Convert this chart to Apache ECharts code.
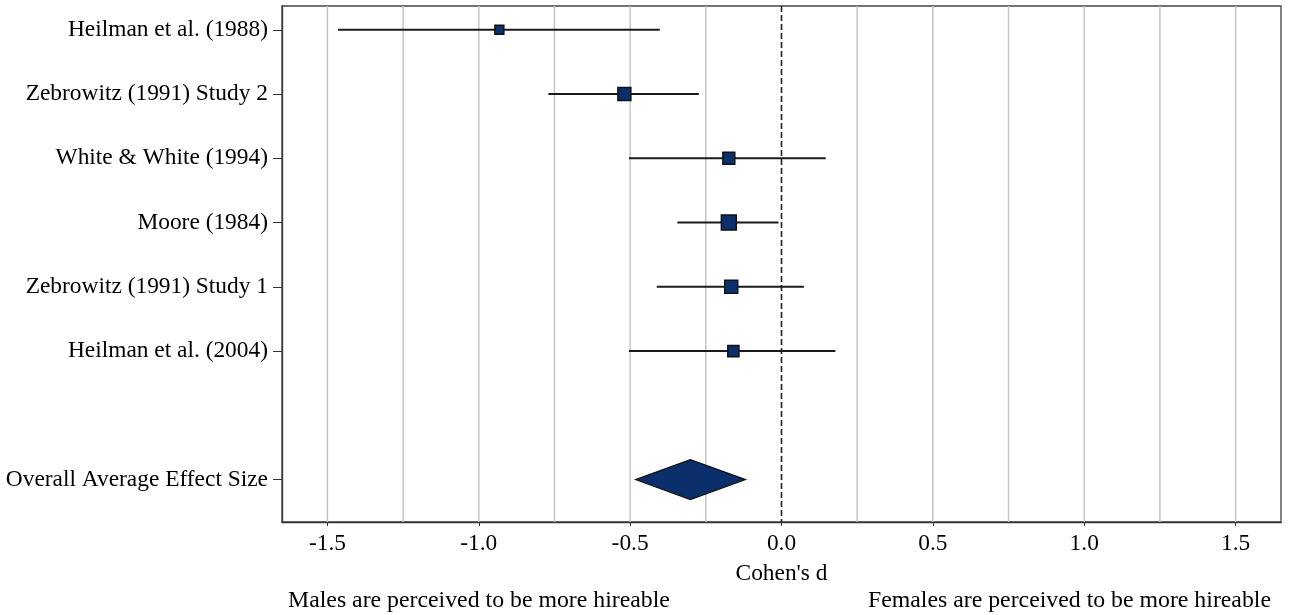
<!DOCTYPE html>
<html>
<head>
<meta charset="utf-8">
<script src="https://cdn.jsdelivr.net/npm/echarts@6/dist/echarts.min.js"></script>
<style>html,body{margin:0;padding:0;background:#fff}#c{width:1290px;height:615px}</style>
</head>
<body>
<div id="c"></div>
<script>
// ---- data ----
const studies = ["Heilman et al. (1988)", "Zebrowitz (1991) Study 2", "White & White (1994)", "Moore (1984)", "Zebrowitz (1991) Study 1", "Heilman et al. (2004)"];
const studyRows = [1, 2, 3, 4, 5, 6];
const effect = [-0.932, -0.519, -0.174, -0.174, -0.166, -0.159];
const ciLow = [-1.465, -0.770, -0.504, -0.344, -0.412, -0.504];
const ciHigh = [-0.402, -0.273, 0.146, -0.010, 0.074, 0.178];
const weights = [0.6, 0.87, 0.8, 1.0, 0.87, 0.75];
const overallLabel = "Overall Average Effect Size";
const overallRow = 8;
const overall = { est: -0.301, low: -0.482, high: -0.119 };
const xTicks = [-1.5, -1.0, -0.5, 0.0, 0.5, 1.0, 1.5];
const gridValues = [-1.5, -1.25, -1.0, -0.75, -0.5, -0.25, 0.25, 0.5, 0.75, 1.0, 1.25, 1.5];
const zeroLine = [0];
const xTitle = "Cohen's d";
const leftNote = "Males are perceived to be more hireable";
const rightNote = "Females are perceived to be more hireable";

// ---- chart ----
const FONT = "'Liberation Serif', 'Times New Roman', serif";
const FS = 23.4;
const rowLabels = {};
studies.forEach((s, i) => { rowLabels[studyRows[i]] = s; });
rowLabels[overallRow] = overallLabel;
const yLabelVals = studyRows.concat([overallRow]);
const Y_MIN = 0.63, Y_MAX = 8.66;

const chart = echarts.init(document.getElementById('c'), null, { renderer: 'canvas' });

function vLine(color, dash, width) {
  return function (params, api) {
    const v = api.value(0);
    const p1 = api.coord([v, Y_MIN]);
    const p2 = api.coord([v, Y_MAX]);
    return { type: 'line', shape: { x1: p1[0], y1: p1[1], x2: p2[0], y2: p2[1] },
      style: { stroke: color, lineWidth: width, lineDash: dash } };
  };
}

chart.setOption({
  animation: false,
  backgroundColor: '#ffffff',
  grid: { left: 282, right: 9, top: 6, bottom: 93, show: true, borderColor: '#444', borderWidth: 1.3, backgroundColor: 'transparent' },
  xAxis: {
    type: 'value', min: -1.65, max: 1.65,
    axisLine: { show: true, onZero: false, lineStyle: { color: '#333', width: 1.3 } },
    axisTick: { show: true, customValues: xTicks, length: 4, lineStyle: { color: '#333' } },
    axisLabel: { customValues: xTicks, margin: 10, color: '#000', fontFamily: FONT, fontSize: FS,
      formatter: v => v.toFixed(1) },
    splitLine: { show: false },
    name: xTitle, nameLocation: 'middle', nameGap: 40,
    nameTextStyle: { color: '#000', fontFamily: FONT, fontSize: FS }
  },
  yAxis: {
    type: 'value', inverse: true, min: Y_MIN, max: Y_MAX,
    axisLine: { show: true, onZero: false, lineStyle: { color: '#333', width: 1.3 } },
    axisTick: { show: true, customValues: yLabelVals, length: 9, lineStyle: { color: '#333' } },
    axisLabel: { customValues: yLabelVals, margin: 14, color: '#000', fontFamily: FONT, fontSize: FS,
      padding: [2, 0, 0, 0],
      formatter: v => rowLabels[Math.round(v)] || '' },
    splitLine: { show: false }
  },
  series: [
    { type: 'custom', z: 1, silent: true, data: gridValues.map(v => [v]), renderItem: vLine('#c4c4c4', null, 1.5) },
    { type: 'custom', z: 2, silent: true, data: zeroLine.map(v => [v]), renderItem: vLine('#222', [6, 3], 1.6) },
    {
      type: 'custom', z: 3, silent: true,
      data: studies.map((s, i) => [ciLow[i], ciHigh[i], studyRows[i]]),
      renderItem: function (params, api) {
        const a = api.coord([api.value(0), api.value(2)]);
        const b = api.coord([api.value(1), api.value(2)]);
        return { type: 'line', shape: { x1: a[0], y1: a[1], x2: b[0], y2: b[1] },
          style: { stroke: '#1a1a1a', lineWidth: 2 } };
      }
    },
    {
      type: 'scatter', z: 4, silent: true, symbol: 'rect',
      data: studies.map((s, i) => ({ value: [effect[i], studyRows[i]], symbolSize: 15 * weights[i] })),
      itemStyle: { color: '#0b2f6b', borderColor: '#111', borderWidth: 1.4, opacity: 1 }
    },
    {
      type: 'custom', z: 4, silent: true,
      data: [[overall.low, overall.est, overall.high, overallRow]],
      renderItem: function (params, api) {
        const y = api.value(3);
        const l = api.coord([api.value(0), y]);
        const c = api.coord([api.value(1), y]);
        const r = api.coord([api.value(2), y]);
        const h = 20;
        return { type: 'polygon', shape: { points: [[l[0], l[1]], [c[0], c[1] - h], [r[0], r[1]], [c[0], c[1] + h]] },
          style: { fill: '#0b2f6b', stroke: '#111', lineWidth: 1.2 } };
      }
    }
  ],
  graphic: [
    { type: 'text', left: 288, top: 589, style: { text: leftNote, font: '23.8px ' + FONT, fill: '#000' } },
    { type: 'text', right: 19, top: 589, style: { text: rightNote, font: '23.8px ' + FONT, fill: '#000' } }
  ]
});
</script>
</body>
</html>
